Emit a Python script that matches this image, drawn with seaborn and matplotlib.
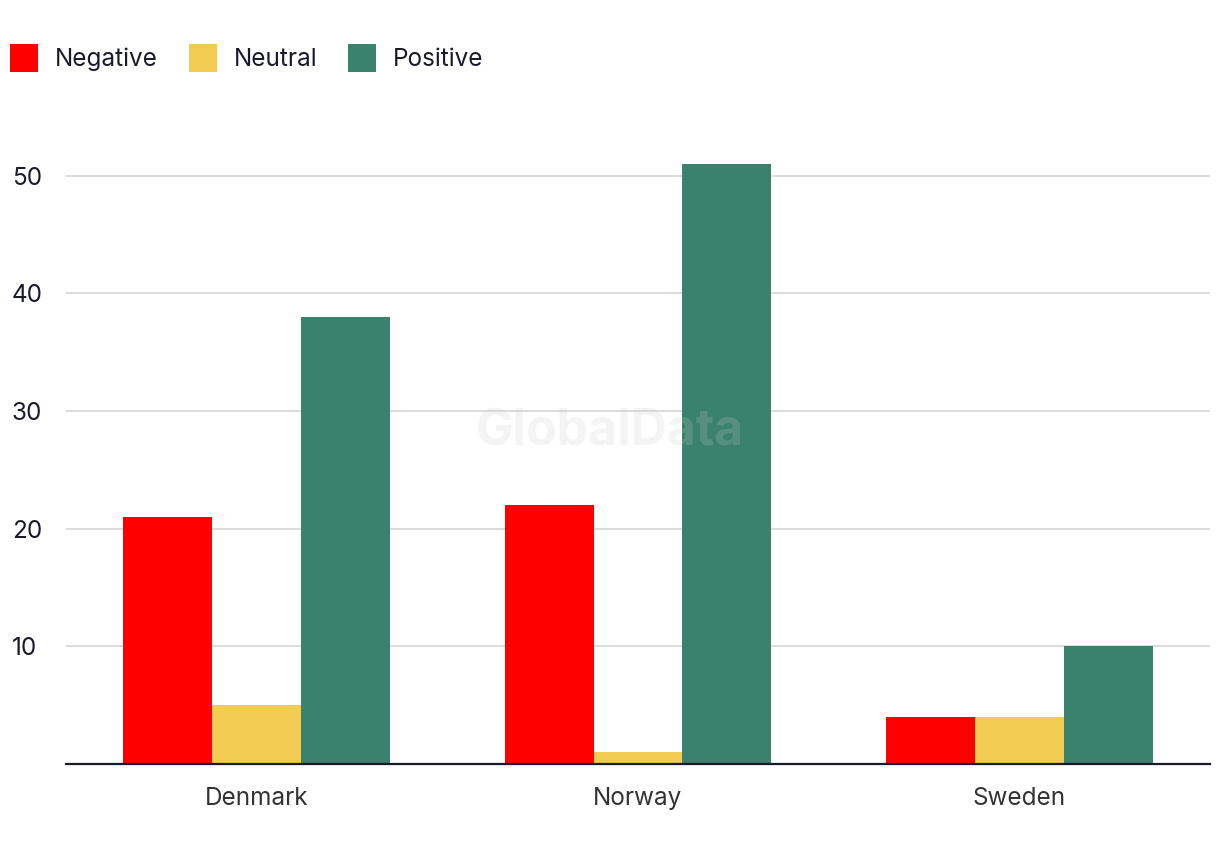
import matplotlib
matplotlib.use("Agg")
import matplotlib.pyplot as plt
import seaborn as sns
import pandas as pd
from matplotlib.patches import Patch

countries = ["Denmark", "Norway", "Sweden"]
sentiments = ["Negative", "Neutral", "Positive"]
negative = [21, 22, 4]
neutral = [5, 1, 4]
positive = [38, 51, 10]
colors = ["#ff0000", "#f0cd52", "#3a826d"]
yticks = [10, 20, 30, 40, 50]

rows = []
for c, n, u, p in zip(countries, negative, neutral, positive):
    rows += [(c, "Negative", n), (c, "Neutral", u), (c, "Positive", p)]
df = pd.DataFrame(rows, columns=["country", "sentiment", "value"])

sns.set_theme(style="white")
plt.rcParams["font.family"] = ["Inter", "DejaVu Sans"]

fig = plt.figure(figsize=(12.2, 8.6), dpi=100)
ax = fig.add_axes([0.0541, 0.1116, 0.9377, 0.7524])
sns.barplot(data=df, x="country", y="value", hue="sentiment", order=countries,
            hue_order=sentiments, palette=colors, width=0.7, saturation=1,
            errorbar=None, ax=ax, legend=False, linewidth=0, edgecolor="none")

ax.set_xlim(-0.5, 2.5)
ax.set_ylim(0, 55)
ax.set_yticks(yticks)
ax.set_yticklabels([str(v) for v in yticks])
ax.yaxis.grid(True, color="#d9d9d9", linewidth=1.3)
ax.set_axisbelow(True)
for s in ["top", "right", "left"]:
    ax.spines[s].set_visible(False)
ax.spines["bottom"].set_color("#1a1a2e")
ax.spines["bottom"].set_linewidth(1.6)
ax.tick_params(axis="both", length=0)
ax.tick_params(axis="y", labelsize=17.5, labelcolor="#1a1a2e", pad=39)
ax.tick_params(axis="x", labelsize=17.5, labelcolor="#333333", pad=16.5)
for lbl in ax.get_yticklabels():
    lbl.set_horizontalalignment("left")
ax.set_xlabel("")
ax.set_ylabel("")

ax.text(0.4755, 0.513, "GlobalData", transform=ax.transAxes, ha="center", va="center",
        fontsize=36, fontweight="bold", color="#cccccc", alpha=0.2, zorder=10)

handles = [Patch(facecolor=c, edgecolor="none") for c in colors]
fig.legend(handles, sentiments, loc="center left", bbox_to_anchor=(0.0082, 0.9326),
           ncol=3, frameon=False, fontsize=17.5, handlelength=1.15, handleheight=1.4,
           handletextpad=0.7, columnspacing=1.27, labelcolor="#1a1a2e",
           borderaxespad=0.0, borderpad=0.0)

fig.savefig("out.png", dpi=100)
